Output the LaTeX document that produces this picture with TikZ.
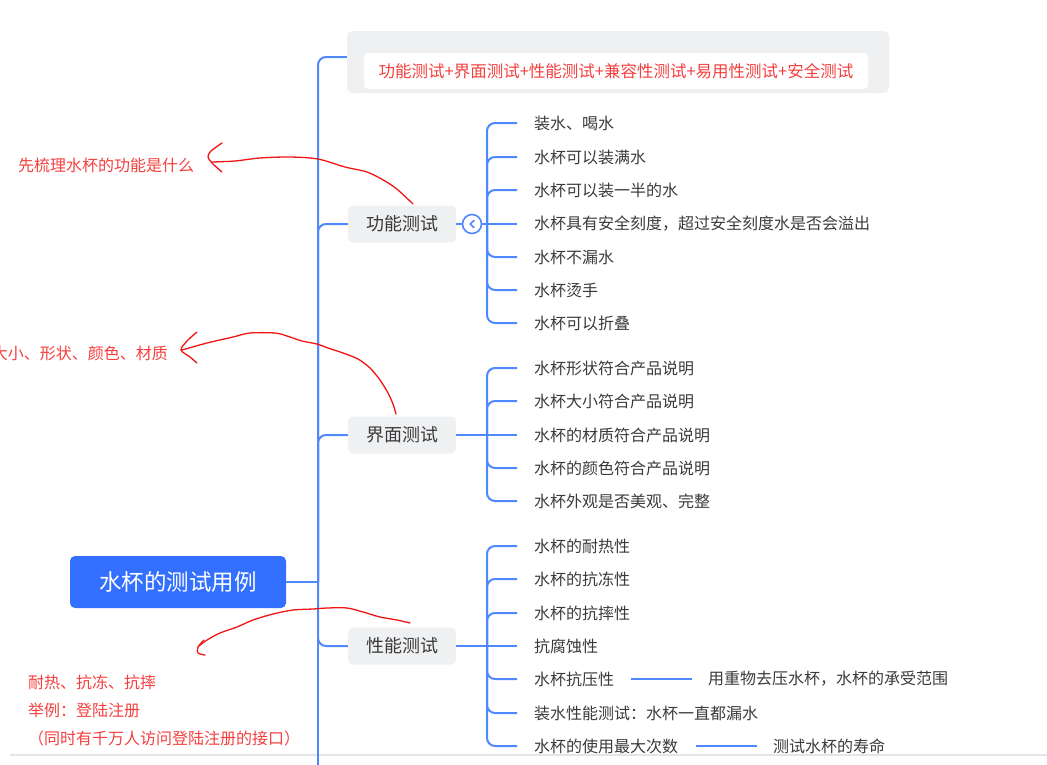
\documentclass[tikz,border=0pt]{standalone}
\usepackage{fontspec}
\setmainfont{Noto Sans CJK SC}
\definecolor{lineblue}{HTML}{5088FF}
\definecolor{rootblue}{HTML}{3370FF}
\definecolor{boxgrey}{HTML}{EFF0F2}
\definecolor{txt}{HTML}{3A3A3A}
\definecolor{redtxt}{HTML}{F53F3F}
\definecolor{redline}{HTML}{F01515}
\definecolor{sepgrey}{HTML}{E3E5E8}
\begin{document}
\begin{tikzpicture}[x=1pt,y=-1pt,
  conn/.style={draw=lineblue, line width=2pt, rounded corners=8pt},
  rootbox/.style={fill=rootblue, rounded corners=5pt, text=white, minimum width=216pt, minimum height=52pt, inner sep=0pt, font=\fontsize{22.5}{27}\selectfont},
  branch/.style={fill=boxgrey, rounded corners=5pt, text=txt, minimum width=108pt, minimum height=37pt, inner sep=0pt, font=\fontsize{18}{22}\selectfont},
  leaf/.style={anchor=west, text=txt, inner xsep=0pt, inner ysep=2pt, font=\fontsize{16}{19}\selectfont},
  note/.style={anchor=west, text=redtxt, inner sep=0pt, font=\fontsize{16}{19}\selectfont},
  scribble/.style={draw=redline, line width=1.3pt, line cap=round, line join=round},
]
\useasboundingbox (0,0) rectangle (1047,764);
\clip (0,0) rectangle (1047,764);

% separator of the screenshot
\coordinate (sepL) at (10,755);
\coordinate (sepR) at (1047,755);
\draw[sepgrey, line width=1.5pt] (sepL) -- (sepR);

% root and branches
\node[rootbox] (root) at (178,582) {水杯的测试用例};
\node[fill=boxgrey, rounded corners=5pt, minimum width=542pt, minimum height=62pt, inner sep=0pt] (top) at (618,62) {};
\node[fill=white, rounded corners=4pt, minimum width=504pt, minimum height=36pt, inner sep=0pt, text=redtxt, font=\fontsize{16.5}{20}\selectfont] (topin) at (616,71) {功能测试+界面测试+性能测试+兼容性测试+易用性测试+安全测试};
\node[branch] (f1) at (402,224) {功能测试};
\node[branch] (f2) at (402,435) {界面测试};
\node[branch] (f3) at (402,646) {性能测试};

\coordinate (hub) at (318,582);
\coordinate (trunkend) at (318,770);
\draw[conn] (root.east) -- (hub);
\draw[conn] (hub) |- ([yshift=5pt]top.west);
\draw[conn] (hub) |- (f1.west);
\draw[conn] (hub) |- (f2.west);
\draw[conn] (hub) |- (f3.west);
\draw[conn] (hub) -- (trunkend);

% collapse toggle
\node[circle, draw=lineblue, line width=1.6pt, fill=white, minimum size=19pt, inner sep=0pt] (tog) at (472,224) {};
\draw[lineblue, line width=1.6pt, line cap=round, line join=round] ([xshift=2pt,yshift=3.6pt]tog.center) -- ([xshift=-1.8pt]tog.center) -- ([xshift=2pt,yshift=-3.6pt]tog.center);
\coordinate (j1) at (487,224);
\coordinate (j2) at (487,435);
\coordinate (j3) at (487,646);
\draw[conn] (f1.east) -- (tog.west);
\draw[conn] (tog.east) -- (j1);
\draw[conn] (f2.east) -- (j2);
\draw[conn] (f3.east) -- (j3);

% leaves of 功能测试
\node[leaf] (a1) at (534,123) {装水、喝水};
\node[leaf] (a2) at (534,157) {水杯可以装满水};
\node[leaf] (a3) at (534,190) {水杯可以装一半的水};
\node[leaf] (a4) at (534,224) {水杯具有安全刻度，超过安全刻度水是否会溢出};
\node[leaf] (a5) at (534,257) {水杯不漏水};
\node[leaf] (a6) at (534,290) {水杯烫手};
\node[leaf] (a7) at (534,323) {水杯可以折叠};
\foreach \n in {a1,a2,a3,a5,a6,a7} {\draw[conn] (j1) |- ([xshift=-17pt]\n.west);}
\draw[conn] (j1) -- ([xshift=-17pt]a4.west);

% leaves of 界面测试
\node[leaf] (b1) at (534,368) {水杯形状符合产品说明};
\node[leaf] (b2) at (534,401) {水杯大小符合产品说明};
\node[leaf] (b3) at (534,435) {水杯的材质符合产品说明};
\node[leaf] (b4) at (534,468) {水杯的颜色符合产品说明};
\node[leaf] (b5) at (534,501) {水杯外观是否美观、完整};
\foreach \n in {b1,b2,b4,b5} {\draw[conn] (j2) |- ([xshift=-17pt]\n.west);}
\draw[conn] (j2) -- ([xshift=-17pt]b3.west);

% leaves of 性能测试
\node[leaf] (c1) at (534,546) {水杯的耐热性};
\node[leaf] (c2) at (534,579) {水杯的抗冻性};
\node[leaf] (c3) at (534,613) {水杯的抗摔性};
\node[leaf] (c4) at (534,646) {抗腐蚀性};
\node[leaf] (c5) at (534,679) {水杯抗压性};
\node[leaf] (c6) at (534,713) {装水性能测试：水杯一直都漏水};
\node[leaf] (c7) at (534,746) {水杯的使用最大次数};
\foreach \n in {c1,c2,c3,c5,c6,c7} {\draw[conn] (j3) |- ([xshift=-17pt]\n.west);}
\draw[conn] (j3) -- ([xshift=-17pt]c4.west);

\node[leaf] (g1) at (708,679) {用重物去压水杯，水杯的承受范围};
\node[leaf] (g2) at (773,746) {测试水杯的寿命};
\draw[conn] ([xshift=17pt]c5.east) -- ([xshift=-16pt]g1.west);
\draw[conn] ([xshift=18pt]c7.east) -- ([xshift=-16pt]g2.west);

% red notes
\node[note] (n1) at (18,165) {先梳理水杯的功能是什么};
\node[note, anchor=east] (n2) at (168,353) {大小、形状、颜色、材质};
\node[note] (n3) at (28,682) {耐热、抗冻、抗摔};
\node[note] (n4) at (28,710) {举例：登陆注册};
\node[note] (n5) at (28,738) {（同时有千万人访问登陆注册的接口）};

% hand-drawn arrows
\draw[scribble] plot[smooth, tension=0.5] coordinates {(413,204) (398,190) (385,181) (367,172) (345,167) (318,159) (290,157) (260,158) (235,161) (212,162)};
\draw[scribble] plot[smooth, tension=0.5] coordinates {(222,143) (211,151) (208,157) (213,164) (222,172)};

\draw[scribble] plot[smooth, tension=0.5] coordinates {(396,414) (393,404) (388,393) (380,380) (370,368) (358,359) (343,353) (328,348) (317,344) (302,341) (287,336) (275,333) (250,333) (233,337) (207,343) (182,350)};
\draw[scribble] plot[smooth, tension=0.5] coordinates {(197,332) (187,341) (181,350) (190,357) (197,363)};

\draw[scribble] plot[smooth, tension=0.5] coordinates {(410,623) (397,620) (380,617) (363,612) (347,608) (327,608) (313,609) (293,610) (273,614) (253,620) (237,627) (220,633) (207,640) (199,646)};
\draw[scribble] plot[smooth, tension=0.5] coordinates {(204,640) (198,647) (198,653) (205,655)};
\end{tikzpicture}
\end{document}
